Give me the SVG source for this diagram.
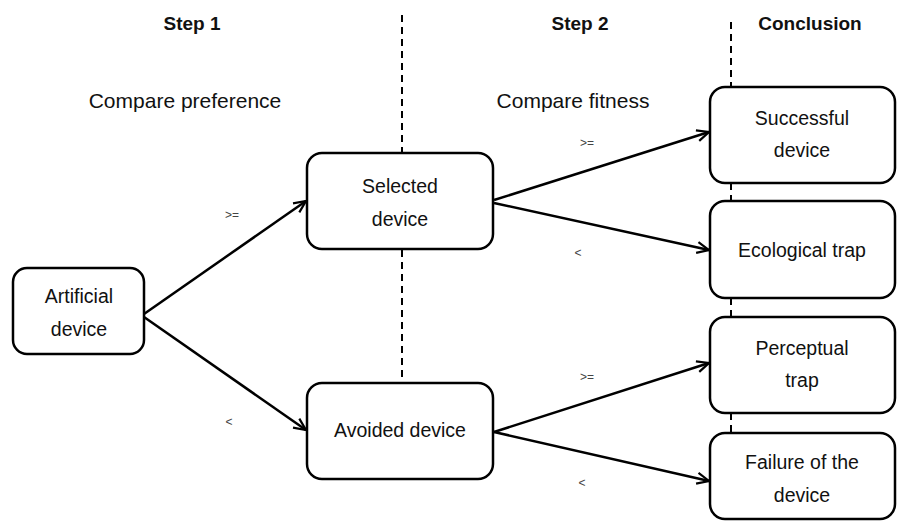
<svg xmlns="http://www.w3.org/2000/svg" width="898" height="522" viewBox="0 0 898 522">
<defs>
<style>
.box{fill:#fff;stroke:#000;stroke-width:2.5}
.t{font-family:"Liberation Sans",Arial,sans-serif;font-size:19.5px;fill:#111;text-anchor:middle}
.c{font-family:"Liberation Sans",Arial,sans-serif;font-size:21px;fill:#111;text-anchor:middle}
.h{font-family:"Liberation Sans",Arial,sans-serif;font-size:19px;font-weight:bold;fill:#111;text-anchor:middle}
.s{font-family:"Liberation Sans",Arial,sans-serif;font-size:12px;fill:#444;text-anchor:middle}
.dash{stroke:#000;stroke-width:2;stroke-dasharray:7,5;fill:none}
.arr{stroke:#000;stroke-width:2.5;fill:none;marker-end:url(#ah)}
</style>
<marker id="ah" viewBox="0 0 14 14" refX="13" refY="7" markerWidth="14" markerHeight="14" markerUnits="userSpaceOnUse" orient="auto">
<path d="M1,1.5 L13,7 L1,12.5" fill="none" stroke="#000" stroke-width="2.2"/>
</marker>
</defs>
<rect width="898" height="522" fill="#fff"/>
<g id="headers">
<text class="h" x="192" y="30">Step 1</text>
<text class="h" x="580" y="30">Step 2</text>
<text class="h" x="810" y="30">Conclusion</text>
<text class="c" x="185" y="108">Compare preference</text>
<text class="c" x="573" y="108">Compare fitness</text>
</g>
<g id="dividers">
<line class="dash" x1="402" y1="15" x2="402" y2="153"/>
<line class="dash" x1="402" y1="250" x2="402" y2="383"/>
<line class="dash" x1="731" y1="22" x2="731" y2="87"/>
<line class="dash" x1="731" y1="183" x2="731" y2="201"/>
<line class="dash" x1="731" y1="298" x2="731" y2="317"/>
<line class="dash" x1="731" y1="413" x2="731" y2="433"/>
</g>
<g id="connectors">
<line class="arr" x1="144" y1="314" x2="306" y2="201"/>
<line class="arr" x1="144" y1="317" x2="306" y2="430"/>
<line class="arr" x1="494" y1="200" x2="709" y2="132"/>
<line class="arr" x1="494" y1="203" x2="709" y2="250"/>
<line class="arr" x1="494" y1="432" x2="709" y2="363"/>
<line class="arr" x1="494" y1="432" x2="709" y2="481"/>
<text class="s" x="232" y="219">&gt;=</text>
<text class="s" x="229" y="426">&lt;</text>
<text class="s" x="587" y="147">&gt;=</text>
<text class="s" x="578" y="257">&lt;</text>
<text class="s" x="587" y="381">&gt;=</text>
<text class="s" x="582" y="487">&lt;</text>
</g>
<g id="artificial">
<rect class="box" x="13" y="268" width="131" height="86" rx="14"/>
<text class="t" x="79" y="303">Artificial</text>
<text class="t" x="79" y="336">device</text>
</g>
<g id="selected">
<rect class="box" x="307" y="153" width="186" height="96" rx="15"/>
<text class="t" x="400" y="193">Selected</text>
<text class="t" x="400" y="226">device</text>
</g>
<g id="avoided">
<rect class="box" x="307" y="383" width="186" height="96" rx="15"/>
<text class="t" x="400" y="437">Avoided device</text>
</g>
<g id="successful">
<rect class="box" x="710" y="87" width="185" height="96" rx="15"/>
<text class="t" x="802" y="125">Successful</text>
<text class="t" x="802" y="157">device</text>
</g>
<g id="ecological">
<rect class="box" x="710" y="201" width="185" height="97" rx="15"/>
<text class="t" x="802" y="257">Ecological trap</text>
</g>
<g id="perceptual">
<rect class="box" x="710" y="317" width="185" height="96" rx="15"/>
<text class="t" x="802" y="355">Perceptual</text>
<text class="t" x="802" y="387">trap</text>
</g>
<g id="failure">
<rect class="box" x="710" y="433" width="185" height="86" rx="15"/>
<text class="t" x="802" y="469">Failure of the</text>
<text class="t" x="802" y="502">device</text>
</g>
</svg>
